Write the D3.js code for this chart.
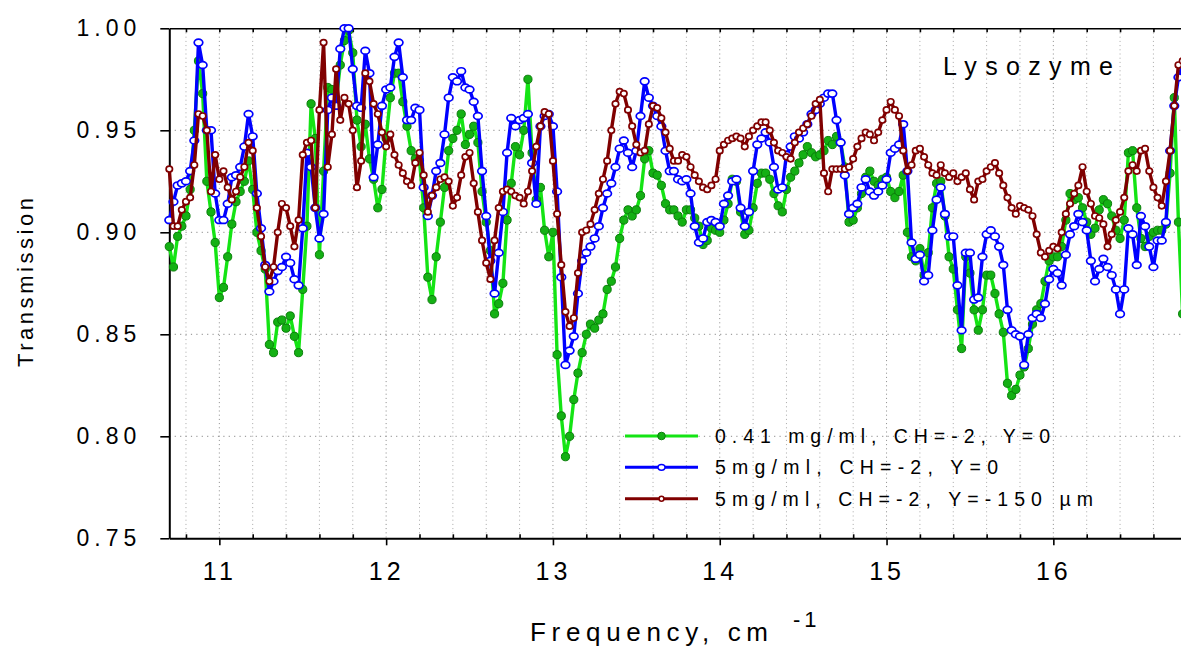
<!DOCTYPE html>
<html>
<head>
<meta charset="utf-8">
<script src="https://cdn.jsdelivr.net/npm/d3@7"></script>
<style>
  body { margin: 0; background: #fff; }
  svg { display: block; }
</style>
</head>
<body>
<svg id="chart" width="1181" height="646"></svg>
<script>
// Sampling grid of the spectra (cm^-1)
const freqStart = 10.7;
const freqStep = 0.025;

// Transmission, 0.41 mg/ml, CH=-2, Y=0
const lowConc = [
  0.893, 0.883, 0.898, 0.903, 0.908, 0.921, 0.950, 0.984,
  0.968, 0.925, 0.910, 0.895, 0.868, 0.873, 0.888, 0.904,
  0.915, 0.920, 0.925, 0.935, 0.921, 0.900, 0.891, 0.882,
  0.845, 0.841, 0.856, 0.857, 0.853, 0.859, 0.849, 0.841,
  0.872, 0.903, 0.963, 0.946, 0.889, 0.930, 0.971, 0.970,
  0.964, 0.982, 0.994, 0.999, 0.988, 0.955, 0.942, 0.953,
  0.936, 0.926, 0.912, 0.921, 0.946, 0.966, 0.978, 0.978,
  0.964, 0.952, 0.940, 0.936, 0.935, 0.912, 0.878, 0.867,
  0.888, 0.905, 0.922, 0.940, 0.946, 0.950, 0.958, 0.943,
  0.948, 0.952, 0.944, 0.920, 0.905, 0.891, 0.860, 0.865,
  0.875, 0.906, 0.924, 0.942, 0.938, 0.950, 0.975, 0.939,
  0.916, 0.922, 0.901, 0.888, 0.900, 0.840, 0.810, 0.790,
  0.800, 0.818, 0.831, 0.841, 0.850, 0.855, 0.853, 0.857,
  0.860, 0.872, 0.876, 0.883, 0.897, 0.906, 0.911, 0.908,
  0.911, 0.918, 0.936, 0.940, 0.929, 0.928, 0.923, 0.914,
  0.911, 0.911, 0.908, 0.905, 0.911, 0.911, 0.907, 0.903,
  0.894, 0.896, 0.902, 0.901, 0.900, 0.906, 0.914, 0.926,
  0.925, 0.910, 0.899, 0.901, 0.912, 0.924, 0.929, 0.929,
  0.926, 0.919, 0.913, 0.910, 0.921, 0.927, 0.930, 0.934,
  0.938, 0.942, 0.939, 0.937, 0.938, 0.940, 0.945, 0.943,
  0.947, 0.944, 0.932, 0.905, 0.906, 0.912, 0.919, 0.927,
  0.930, 0.925, 0.923, 0.926, 0.927, 0.920, 0.917, 0.920,
  0.928, 0.900, 0.888, 0.886, 0.892, 0.879, 0.890, 0.912,
  0.924, 0.925, 0.908, 0.888, 0.882, 0.862, 0.843, 0.888,
  0.880, 0.862, 0.852, 0.862, 0.879, 0.879, 0.870, 0.860,
  0.851, 0.826, 0.820, 0.823, 0.830, 0.834, 0.843, 0.855,
  0.862, 0.865, 0.876, 0.886, 0.888, 0.888, 0.893, 0.906,
  0.919, 0.916, 0.917, 0.912, 0.905, 0.899, 0.902, 0.911,
  0.916, 0.914, 0.908, 0.901, 0.897, 0.906, 0.939, 0.940,
  0.912, 0.897, 0.893, 0.898, 0.900, 0.901, 0.901, 0.904,
  0.929, 0.966, 0.905, 0.860
];

// Transmission, 5 mg/ml, CH=-2, Y=0
const highConc = [
  0.906, 0.915, 0.923, 0.924, 0.925, 0.930, 0.945, 0.993,
  0.982, 0.950, 0.950, 0.919, 0.906, 0.906, 0.914, 0.927,
  0.928, 0.932, 0.942, 0.958, 0.947, 0.919, 0.902, 0.884,
  0.871, 0.876, 0.881, 0.883, 0.888, 0.885, 0.877, 0.874,
  0.902, 0.939, 0.932, 0.912, 0.897, 0.909, 0.960, 0.966,
  0.962, 0.990, 1.000, 1.000, 0.980, 0.962, 0.961, 0.989,
  0.978, 0.927, 0.943, 0.962, 0.970, 0.971, 0.986, 0.993,
  0.976, 0.955, 0.955, 0.961, 0.960, 0.922, 0.908, 0.918,
  0.930, 0.934, 0.948, 0.966, 0.976, 0.974, 0.979, 0.971,
  0.970, 0.964, 0.957, 0.930, 0.908, 0.886, 0.870, 0.890,
  0.910, 0.939, 0.956, 0.952, 0.955, 0.956, 0.958, 0.934,
  0.914, 0.952, 0.957, 0.958, 0.952, 0.920, 0.878, 0.835,
  0.842, 0.849, 0.870, 0.886, 0.890, 0.893, 0.897, 0.903,
  0.912, 0.919, 0.924, 0.932, 0.941, 0.945, 0.939, 0.932,
  0.940, 0.957, 0.974, 0.966, 0.962, 0.957, 0.952, 0.940,
  0.930, 0.930, 0.926, 0.925, 0.926, 0.919, 0.903, 0.895,
  0.897, 0.905, 0.906, 0.905, 0.903, 0.914, 0.918, 0.925,
  0.926, 0.912, 0.903, 0.910, 0.930, 0.943, 0.946, 0.949,
  0.944, 0.932, 0.921, 0.922, 0.938, 0.942, 0.947, 0.946,
  0.949, 0.953, 0.958, 0.960, 0.963, 0.966, 0.968, 0.968,
  0.955, 0.944, 0.928, 0.909, 0.912, 0.914, 0.922, 0.926,
  0.920, 0.918, 0.920, 0.923, 0.926, 0.939, 0.941, 0.943,
  0.953, 0.930, 0.895, 0.887, 0.889, 0.876, 0.879, 0.901,
  0.916, 0.922, 0.909, 0.898, 0.898, 0.874, 0.852, 0.890,
  0.890, 0.867, 0.868, 0.888, 0.899, 0.901, 0.898, 0.893,
  0.884, 0.862, 0.852, 0.850, 0.849, 0.835, 0.850, 0.858,
  0.860, 0.858, 0.865, 0.877, 0.882, 0.880, 0.874, 0.889,
  0.899, 0.903, 0.909, 0.905, 0.901, 0.886, 0.876, 0.882,
  0.887, 0.883, 0.879, 0.872, 0.860, 0.872, 0.902, 0.899,
  0.884, 0.908, 0.903, 0.893, 0.883, 0.896, 0.896, 0.905,
  0.940, 0.962, 0.976, 0.982
];

// Transmission, 5 mg/ml, CH=-2, Y=-150 um
const highConcShifted = [
  0.931, 0.903, 0.903, 0.911, 0.915, 0.917, 0.933, 0.958,
  0.957, 0.950, 0.920, 0.938, 0.926, 0.930, 0.922, 0.916,
  0.920, 0.927, 0.932, 0.944, 0.940, 0.912, 0.898, 0.883,
  0.876, 0.883, 0.900, 0.914, 0.912, 0.903, 0.893, 0.906,
  0.938, 0.944, 0.945, 0.912, 0.960, 0.993, 0.932, 0.948,
  0.980, 0.955, 0.966, 0.963, 0.950, 0.922, 0.935, 0.978,
  0.974, 0.963, 0.958, 0.949, 0.942, 0.948, 0.938, 0.933,
  0.929, 0.925, 0.923, 0.934, 0.939, 0.928, 0.910, 0.918,
  0.922, 0.926, 0.927, 0.925, 0.913, 0.917, 0.928, 0.937,
  0.939, 0.924, 0.910, 0.896, 0.885, 0.877, 0.896, 0.912,
  0.920, 0.921, 0.920, 0.918, 0.917, 0.914, 0.920, 0.930,
  0.942, 0.952, 0.959, 0.958, 0.935, 0.909, 0.884, 0.861,
  0.854, 0.858, 0.880, 0.900, 0.901, 0.904, 0.911, 0.919,
  0.926, 0.935, 0.950, 0.963, 0.969, 0.968, 0.960, 0.952,
  0.943, 0.939, 0.940, 0.953, 0.962, 0.961, 0.956, 0.949,
  0.941, 0.935, 0.935, 0.938, 0.937, 0.932, 0.928, 0.925,
  0.922, 0.921, 0.923, 0.926, 0.940, 0.943, 0.945, 0.946,
  0.947, 0.946, 0.942, 0.947, 0.950, 0.952, 0.954, 0.954,
  0.950, 0.944, 0.940, 0.939, 0.937, 0.936, 0.944, 0.949,
  0.951, 0.953, 0.957, 0.963, 0.965, 0.929, 0.920, 0.931,
  0.931, 0.931, 0.931, 0.932, 0.936, 0.942, 0.946, 0.949,
  0.948, 0.945, 0.949, 0.955, 0.960, 0.964, 0.960, 0.957,
  0.940, 0.930, 0.933, 0.940, 0.941, 0.937, 0.933, 0.929,
  0.928, 0.933, 0.929, 0.927, 0.929, 0.925, 0.927, 0.929,
  0.921, 0.916, 0.925, 0.926, 0.930, 0.932, 0.934, 0.929,
  0.923, 0.917, 0.912, 0.909, 0.913, 0.912, 0.911, 0.908,
  0.899, 0.890, 0.888, 0.891, 0.893, 0.892, 0.900, 0.909,
  0.914, 0.919, 0.923, 0.932, 0.920, 0.914, 0.908, 0.907,
  0.904, 0.893, 0.899, 0.906, 0.910, 0.917, 0.930, 0.933,
  0.930, 0.940, 0.941, 0.930, 0.922, 0.917, 0.913, 0.925,
  0.940, 0.962, 0.982, 0.984
];

const seriesLabels = [
  "0.41 mg/ml, CH=-2, Y=0",
  "5mg/ml, CH=-2, Y=0",
  "5mg/ml, CH=-2, Y=-150 \u00b5m"
];
const xTicks = [11, 12, 13, 14, 15, 16];
const yTicks = [0.75, 0.80, 0.85, 0.90, 0.95, 1.00];
const xDomain = [10.7, 16.8];
const yDomain = [0.75, 1.00];
const minorStep = 0.2;

const FONT = "'Liberation Sans', Arial, sans-serif";

const svg = d3.select("#chart");

const plot = { left: 169.3, top: 28.3, bottom: 538.3, pxPerUnit: 166.8 };
const x = d3.scaleLinear()
  .domain(xDomain)
  .range([plot.left, plot.left + (xDomain[1] - xDomain[0]) * plot.pxPerUnit]);
const y = d3.scaleLinear().domain(yDomain).range([plot.bottom, plot.top]);

const minorTicks = d3.range(Math.round((xDomain[1] - xDomain[0]) / minorStep))
  .map(i => +(xDomain[0] + minorStep * (i + 0.5)).toFixed(1))
  .filter(v => v > xDomain[0] && v <= xDomain[1]);

// dotted grid
const grid = svg.append("g");
grid.selectAll("line.v").data(minorTicks).join("line")
  .attr("x1", d => x(d)).attr("x2", d => x(d))
  .attr("y1", y(yDomain[1])).attr("y2", y(yDomain[0]))
  .attr("stroke", d => Number.isInteger(d) ? "#8a8a8a" : "#a8a8a8")
  .attr("stroke-width", 1)
  .attr("stroke-dasharray", "1,3.2");
grid.selectAll("line.h").data(yTicks.slice(1, -1)).join("line")
  .attr("x1", x(xDomain[0])).attr("x2", x(xDomain[1]))
  .attr("y1", d => y(d)).attr("y2", d => y(d))
  .attr("stroke", "#8a8a8a")
  .attr("stroke-width", 1)
  .attr("stroke-dasharray", "1.2,4.2");

// axes
function styleAxis(g) {
  g.attr("font-family", FONT);
  g.select(".domain").attr("stroke", "#000").attr("stroke-width", 2);
  g.selectAll(".tick line").attr("stroke", "#000").attr("stroke-width", 1.6);
}

svg.append("g")
  .attr("transform", `translate(0,${plot.top})`)
  .call(d3.axisTop(x).tickValues(minorTicks).tickSize(-4).tickSizeOuter(0).tickFormat(""))
  .call(styleAxis)
  .call(g => g.select(".domain").attr("stroke-width", 1.6));

svg.append("g")
  .attr("transform", `translate(0,${plot.bottom})`)
  .call(d3.axisBottom(x).tickValues(minorTicks.filter(d => !Number.isInteger(d)))
    .tickSize(-4).tickSizeOuter(0).tickFormat(""))
  .call(styleAxis)
  .call(g => g.select(".domain").remove());

svg.append("g")
  .attr("transform", `translate(0,${plot.bottom})`)
  .call(d3.axisBottom(x).tickValues(xTicks).tickSize(7).tickSizeOuter(0).tickPadding(17)
    .tickFormat(d3.format("d")))
  .call(styleAxis)
  .call(g => g.selectAll(".tick text")
    .attr("font-size", 25).attr("letter-spacing", "4px").attr("fill", "#000"));

svg.append("g")
  .attr("transform", `translate(${plot.left},0)`)
  .call(d3.axisLeft(y).tickValues(yTicks).tickSize(9).tickSizeOuter(0).tickPadding(19)
    .tickFormat(d3.format(".2f")))
  .call(styleAxis)
  .call(g => g.selectAll(".tick text")
    .attr("font-size", 23).attr("letter-spacing", "5px").attr("fill", "#000"));

// spectra
const series = [
  { values: lowConc, line: "#14e414", kind: "filled", fill: "#14b014", stroke: "#0a7e0a", r: 4.1 },
  { values: highConc, line: "#0000ff", kind: "open", fill: "#ffffff", stroke: "#0000ff", rx: 4.3, ry: 3.4 },
  { values: highConcShifted, line: "#800000", kind: "open", fill: "#ffffff", stroke: "#800000", rx: 3.2, ry: 3.0 }
];

const lineGen = d3.line().x(d => x(d[0])).y(d => y(d[1]));

series.forEach(s => {
  const pts = s.values.map((v, i) => [freqStart + i * freqStep, v]);
  const g = svg.append("g");
  g.append("path").datum(pts)
    .attr("d", lineGen)
    .attr("fill", "none")
    .attr("stroke", s.line)
    .attr("stroke-width", 3.4)
    .attr("stroke-linejoin", "round");
  if (s.kind === "filled") {
    g.selectAll("circle").data(pts).join("circle")
      .attr("cx", d => x(d[0])).attr("cy", d => y(d[1])).attr("r", s.r)
      .attr("fill", s.fill).attr("stroke", s.stroke).attr("stroke-width", 1);
  } else {
    g.selectAll("ellipse").data(pts).join("ellipse")
      .attr("cx", d => x(d[0])).attr("cy", d => y(d[1]))
      .attr("rx", s.rx).attr("ry", s.ry)
      .attr("fill", s.fill).attr("stroke", s.stroke).attr("stroke-width", 1.7);
  }
});

// legend
const legendRows = [436, 467.3, 498.7];
const legendWidths = [335, 283, 378];
const legend = svg.append("g").attr("font-family", FONT);
series.forEach((s, i) => {
  const ly = legendRows[i];
  legend.append("line")
    .attr("x1", 625).attr("x2", 698).attr("y1", ly).attr("y2", ly)
    .attr("stroke", s.line).attr("stroke-width", 3);
  if (s.kind === "filled") {
    legend.append("circle").attr("cx", 661.5).attr("cy", ly).attr("r", 3.8)
      .attr("fill", s.fill).attr("stroke", s.stroke).attr("stroke-width", 1);
  } else {
    legend.append("ellipse").attr("cx", 661.5).attr("cy", ly).attr("rx", s.rx - 0.8).attr("ry", s.ry - 0.5)
      .attr("fill", s.fill).attr("stroke", s.stroke).attr("stroke-width", 1.5);
  }
  legend.append("text")
    .attr("x", 715).attr("y", ly + 7)
    .attr("font-size", 19.5)
    .attr("textLength", legendWidths[i]).attr("lengthAdjust", "spacing")
    .attr("fill", "#000")
    .text(seriesLabels[i]);
});

// annotations
svg.append("text")
  .attr("x", 943).attr("y", 75)
  .attr("font-family", FONT).attr("font-size", 25)
  .attr("textLength", 170).attr("lengthAdjust", "spacing")
  .text("Lysozyme");

svg.append("text")
  .attr("transform", "translate(33,367) rotate(-90)")
  .attr("font-family", FONT).attr("font-size", 22)
  .attr("textLength", 169).attr("lengthAdjust", "spacing")
  .text("Transmission");

const xTitle = svg.append("text")
  .attr("x", 530).attr("y", 641)
  .attr("font-family", FONT).attr("font-size", 26);
xTitle.append("tspan")
  .attr("textLength", 238).attr("lengthAdjust", "spacing")
  .text("Frequency, cm");
xTitle.append("tspan")
  .attr("x", 793).attr("y", 627).attr("font-size", 22)
  .attr("letter-spacing", "4px")
  .text("-1");
</script>
</body>
</html>
